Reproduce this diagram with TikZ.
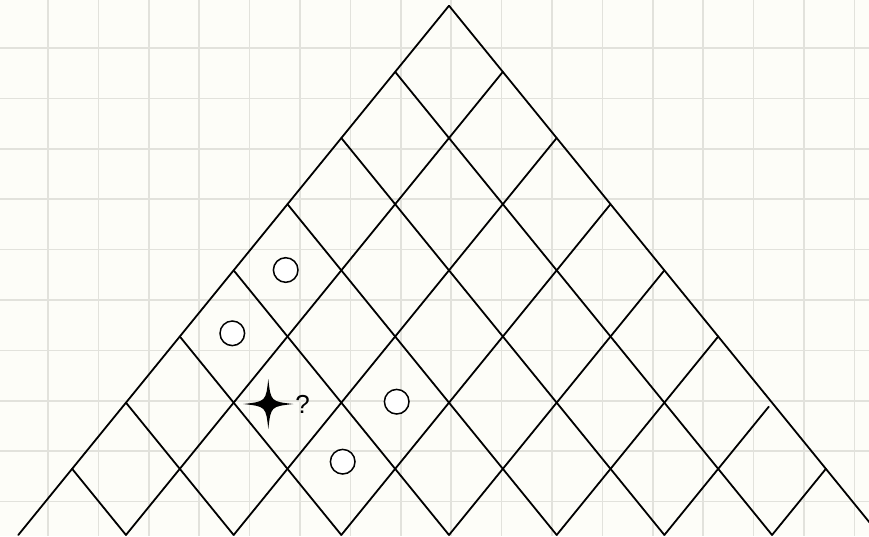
\documentclass[tikz,border=0pt]{standalone}
\usepackage{fontspec}
\setmainfont{Liberation Sans}
\usetikzlibrary{calc}
\definecolor{gridgray}{RGB}{226,226,220}
\definecolor{bgcol}{RGB}{253,253,248}
\begin{document}
\begin{tikzpicture}[x=1pt,y=-1pt,
  gridline/.style={draw=gridgray,line width=1.5pt},
  latline/.style={draw=black,line width=1.8pt,line cap=round,line join=round},
  marker/.style={circle,draw=black,fill=white,line width=1.5pt,minimum size=24.6pt,inner sep=0pt},
  qlabel/.style={font=\fontsize{26}{26}\selectfont,inner sep=0pt}]
\useasboundingbox (0,0) rectangle (869,536);
\fill[bgcol] (0,0) rectangle (869,536);
\foreach \k in {0,...,16} \draw[gridline] ({48+50.4*\k},0) -- ({48+50.4*\k},536);
\foreach \k in {0,...,9} \draw[gridline] (0,{48+50.4*\k}) -- (869,{48+50.4*\k});
\foreach \i in {0,...,8} {
  \pgfmathtruncatemacro\jm{8-\i}
  \foreach \j in {0,...,\jm} {
    \coordinate (p-\i-\j) at ({449+53.84*(\j-\i)},{5.7+66.16*(\i+\j)});
  }
}
\begin{scope}
\clip (0,0) rectangle (869,536);
\foreach \i in {0,...,7} {
  \pgfmathtruncatemacro\jm{8-\i}
  \draw[latline] (p-\i-0) -- (p-\i-\jm);
}
\foreach \j in {0,...,5,7} {
  \pgfmathtruncatemacro\im{8-\j}
  \draw[latline] (p-0-\j) -- (p-\im-\j);
}
\draw[latline] (p-2-6) -- ($(p-2-6)!0.97!(p-0-6)$);
\end{scope}
\node[marker] (c1) at (285.7,270) {};
\node[marker] (c2) at (232.3,333.3) {};
\node[marker] (c3) at (396.7,401.7) {};
\node[marker] (c4) at (342.7,461.7) {};
\coordinate (starc) at (268.3,404);
\begin{scope}[shift={(268.3,404)}]
\fill[black] (25,0) .. controls (2.5,-2.5) .. (0,-25) .. controls (-2.5,-2.5) .. (-25,0) .. controls (-2.5,2.5) .. (0,25) .. controls (2.5,2.5) .. cycle;
\end{scope}
\node[qlabel] (q) at (302.5,404.5) {?};
\end{tikzpicture}
\end{document}
